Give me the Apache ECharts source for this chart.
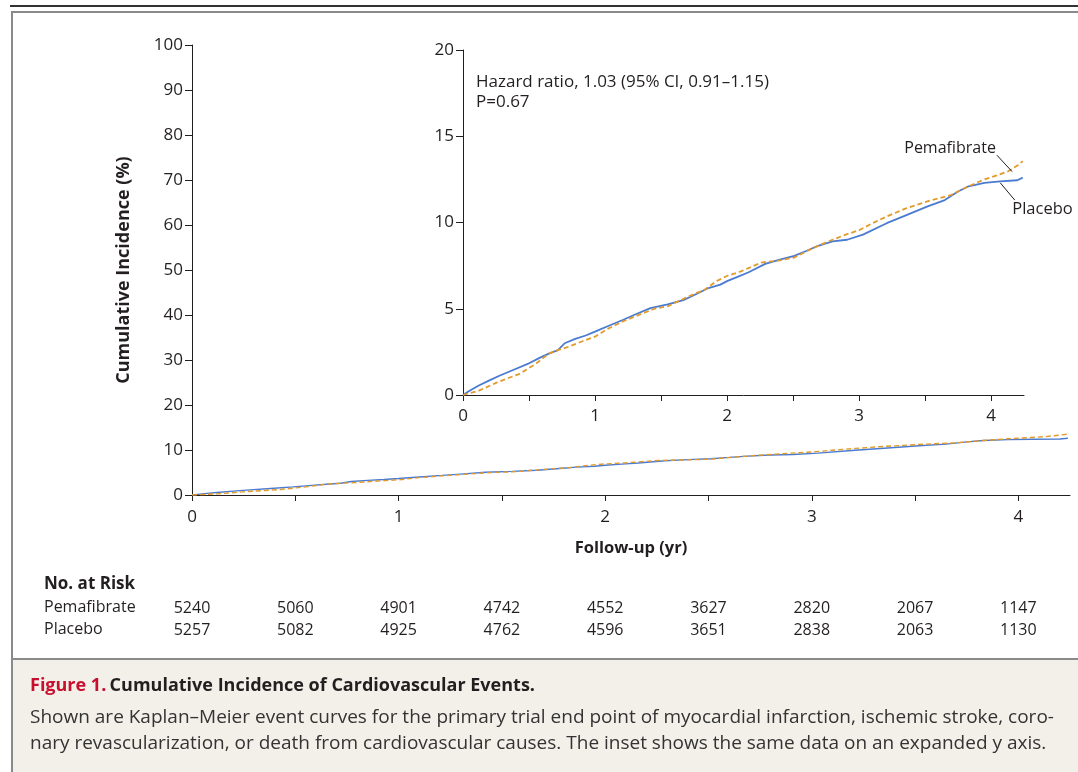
<!DOCTYPE html>
<html>
<head>
<meta charset="utf-8">
<script src="https://cdn.jsdelivr.net/npm/echarts@6/dist/echarts.min.js"></script>
<style>
  html, body { margin: 0; padding: 0; background: #fff; }
  #km { width: 1078px; height: 772px; }
</style>
</head>
<body>
<div id="km"></div>
<script>
// follow-up (yr) and cumulative incidence (%)
var placeboTime = [0, 0.05, 0.12, 0.2, 0.28, 0.38, 0.49, 0.58, 0.65, 0.72, 0.77, 0.85, 0.93, 1.0, 1.1, 1.21, 1.3, 1.42, 1.55, 1.67, 1.78, 1.86, 1.95, 2.0, 2.08, 2.16, 2.29, 2.4, 2.51, 2.6, 2.69, 2.8, 2.91, 3.03, 3.21, 3.35, 3.52, 3.65, 3.75, 3.83, 3.95, 4.07, 4.2, 4.24];
var placeboPct  = [0, 0.25, 0.55, 0.85, 1.13, 1.45, 1.8, 2.15, 2.4, 2.6, 3.0, 3.25, 3.45, 3.67, 4.0, 4.35, 4.65, 5.04, 5.25, 5.5, 5.9, 6.2, 6.4, 6.6, 6.85, 7.1, 7.6, 7.85, 8.07, 8.35, 8.65, 8.9, 9.0, 9.3, 9.96, 10.4, 10.93, 11.3, 11.8, 12.1, 12.3, 12.38, 12.45, 12.6];

var pemaTime = [0, 0.05, 0.12, 0.25, 0.35, 0.43, 0.55, 0.65, 0.72, 0.8, 0.9, 1.0, 1.1, 1.21, 1.35, 1.45, 1.55, 1.65, 1.75, 1.83, 1.92, 2.0, 2.1, 2.26, 2.4, 2.51, 2.62, 2.75, 2.9, 3.0, 3.1, 3.21, 3.35, 3.55, 3.7, 3.83, 3.95, 4.05, 4.13, 4.2, 4.24];
var pemaPct  = [0, 0.1, 0.25, 0.7, 1.0, 1.23, 1.8, 2.4, 2.6, 2.8, 3.1, 3.38, 3.85, 4.26, 4.7, 5.0, 5.14, 5.5, 5.85, 6.1, 6.6, 6.9, 7.15, 7.68, 7.8, 7.97, 8.4, 8.85, 9.3, 9.55, 9.95, 10.35, 10.8, 11.3, 11.6, 12.1, 12.5, 12.75, 12.97, 13.3, 13.55];

// number at risk, every half year
var riskTimes = [0, 0.5, 1, 1.5, 2, 2.5, 3, 3.5, 4];
var riskPema = [5240, 5060, 4901, 4742, 4552, 3627, 2820, 2067, 1147];
var riskPlacebo = [5257, 5082, 4925, 4762, 4596, 3651, 2838, 2063, 1130];

var xTicks = [0, 0.5, 1, 1.5, 2, 2.5, 3, 3.5, 4];
var xLabels = [0, 1, 2, 3, 4];

var FONT = 'Open Sans';
var INK = '#231f20';
var BLUE = '#4a7bd0';
var ORANGE = '#e39a2c';

function pairs(t, v) {
    return t.map(function (x, i) { return [x, v[i]]; });
}

function timeAxis(grid, margin, extra) {
    var a = {
        type: 'value', gridIndex: grid, min: 0, max: 4.25,
        axisLine: { lineStyle: { color: INK, width: 1 } },
        axisTick: { customValues: xTicks, length: 6, lineStyle: { color: INK } },
        axisLabel: { customValues: xLabels, color: INK, fontFamily: FONT, fontSize: 17, margin: margin },
        splitLine: { show: false }
    };
    for (var k in extra) a[k] = extra[k];
    return a;
}

function riskAxis(values, offset) {
    return {
        type: 'value', gridIndex: 0, min: 0, max: 4.25, position: 'bottom', offset: offset,
        axisLine: { show: false },
        axisTick: { show: false },
        splitLine: { show: false },
        axisLabel: {
            customValues: riskTimes, color: INK, fontFamily: FONT, fontSize: 16, margin: 0,
            formatter: function (v) { return String(values[riskTimes.indexOf(v)]); }
        }
    };
}

function pctAxis(grid, max, step, extra) {
    var a = {
        type: 'value', gridIndex: grid, min: 0, max: max, interval: step,
        axisLine: { show: true, lineStyle: { color: INK } },
        axisTick: { show: true, length: 7, lineStyle: { color: INK } },
        axisLabel: { color: INK, fontFamily: FONT, fontSize: 17, margin: 9 },
        splitLine: { show: false }
    };
    for (var k in extra) a[k] = extra[k];
    return a;
}

var option = {
    animation: false,
    backgroundColor: '#fff',
    textStyle: { fontFamily: FONT },
    grid: [
        { left: 192, top: 45, width: 878, height: 450, outerBoundsMode: 'none' },
        { left: 463, top: 50, width: 561, height: 345, outerBoundsMode: 'none' }
    ],
    xAxis: [
        timeAxis(0, 14, {
            name: 'Follow-up (yr)', nameLocation: 'middle', nameGap: 45,
            nameTextStyle: { color: INK, fontFamily: FONT, fontSize: 16.5, fontWeight: 'bold' }
        }),
        timeAxis(1, 13, {}),
        riskAxis(riskPema, 105),
        riskAxis(riskPlacebo, 127)
    ],
    yAxis: [
        pctAxis(0, 100, 10, {
            name: 'Cumulative Incidence (%)', nameLocation: 'middle', nameGap: 59, nameRotate: 90,
            nameTextStyle: { color: INK, fontFamily: FONT, fontSize: 18, fontWeight: 'bold' }
        }),
        pctAxis(1, 20, 5, {})
    ],
    series: [
        {
            name: 'Placebo', type: 'line', xAxisIndex: 0, yAxisIndex: 0,
            data: pairs(placeboTime, placeboPct), showSymbol: false,
            lineStyle: { color: BLUE, width: 1.4 }
        },
        {
            name: 'Pemafibrate', type: 'line', xAxisIndex: 0, yAxisIndex: 0,
            data: pairs(pemaTime, pemaPct), showSymbol: false,
            lineStyle: { color: ORANGE, width: 1.4, type: [5, 3] }
        },
        {
            name: 'Placebo', type: 'line', xAxisIndex: 1, yAxisIndex: 1,
            data: pairs(placeboTime, placeboPct), showSymbol: false,
            lineStyle: { color: BLUE, width: 1.8 },
            markLine: {
                silent: true, symbol: 'none', animation: false,
                lineStyle: { color: INK, width: 1, type: 'solid' }, label: { show: false },
                data: [[{ coord: [4.07, 12.3] }, { coord: [4.18, 11.3] }]]
            }
        },
        {
            name: 'Pemafibrate', type: 'line', xAxisIndex: 1, yAxisIndex: 1,
            data: pairs(pemaTime, pemaPct), showSymbol: false,
            lineStyle: { color: ORANGE, width: 1.8, type: [5, 3] },
            markLine: {
                silent: true, symbol: 'none', animation: false,
                lineStyle: { color: INK, width: 1, type: 'solid' }, label: { show: false },
                data: [[{ coord: [4.045, 13.9] }, { coord: [4.16, 12.95] }]]
            }
        }
    ],
    graphic: [
        // rules and caption panel
        { type: 'rect', z: -10, shape: { x: 12, y: 12, width: 1080, height: 760 }, style: { fill: '#fff', stroke: '#8a8a8a', lineWidth: 2 } },
        { type: 'rect', z: -9, shape: { x: 13, y: 659, width: 1080, height: 120 }, style: { fill: '#f3f0ea' } },
        { type: 'line', z: -8, shape: { x1: 12, y1: 659, x2: 1078, y2: 659 }, style: { stroke: '#8a8a8a', lineWidth: 2 } },
        { type: 'line', shape: { x1: 10, y1: 6, x2: 1078, y2: 6 }, style: { stroke: '#333', lineWidth: 2 } },
        // inset annotation
        { type: 'text', left: 476, top: 72, style: { text: 'Hazard ratio, 1.03 (95% CI, 0.91\u20131.15)\nP=0.67', font: '17px "Open Sans"', fill: INK, lineHeight: 20 } },
        // number at risk
        { type: 'text', left: 44, top: 576, style: { text: 'No. at Risk', font: 'bold 17px "Open Sans"', fill: INK } },
        { type: 'text', left: 44, top: 599, style: { text: 'Pemafibrate', font: '16px "Open Sans"', fill: INK } },
        { type: 'text', left: 44, top: 621, style: { text: 'Placebo', font: '16px "Open Sans"', fill: INK } },
        // caption
        {
            type: 'text', left: 30, top: 677,
            style: {
                text: '{r|Figure 1.} {b|Cumulative Incidence of Cardiovascular Events.}',
                rich: {
                    r: { font: 'bold 18px "Open Sans"', fill: '#c8102e' },
                    b: { font: 'bold 18px "Open Sans"', fill: INK }
                }
            }
        },
        {
            type: 'text', left: 30, top: 705,
            style: {
                text: 'Shown are Kaplan\u2013Meier event curves for the primary trial end point of myocardial infarction, ischemic stroke, coro-\nnary revascularization, or death from cardiovascular causes. The inset shows the same data on an expanded y axis.',
                font: '19px "Open Sans"', fill: '#333', lineHeight: 26
            }
        }
    ]
};

var myChart = echarts.init(document.getElementById('km'));
myChart.setOption(option);

// curve labels in the inset, placed through the inset's own scales
var pemaAt = myChart.convertToPixel({ gridIndex: 1 }, [3.69, 14.3]);
var placAt = myChart.convertToPixel({ gridIndex: 1 }, [4.39, 10.78]);
myChart.setOption({
    graphic: option.graphic.concat([
        { type: 'text', x: pemaAt[0], y: pemaAt[1], style: { text: 'Pemafibrate', font: '16px "Open Sans"', fill: INK, align: 'center', verticalAlign: 'middle' } },
        { type: 'text', x: placAt[0], y: placAt[1], style: { text: 'Placebo', font: '16.5px "Open Sans"', fill: INK, align: 'center', verticalAlign: 'middle' } }
    ])
});

window.addEventListener('resize', function () {
    myChart.resize();
});
</script>
</body>
</html>
